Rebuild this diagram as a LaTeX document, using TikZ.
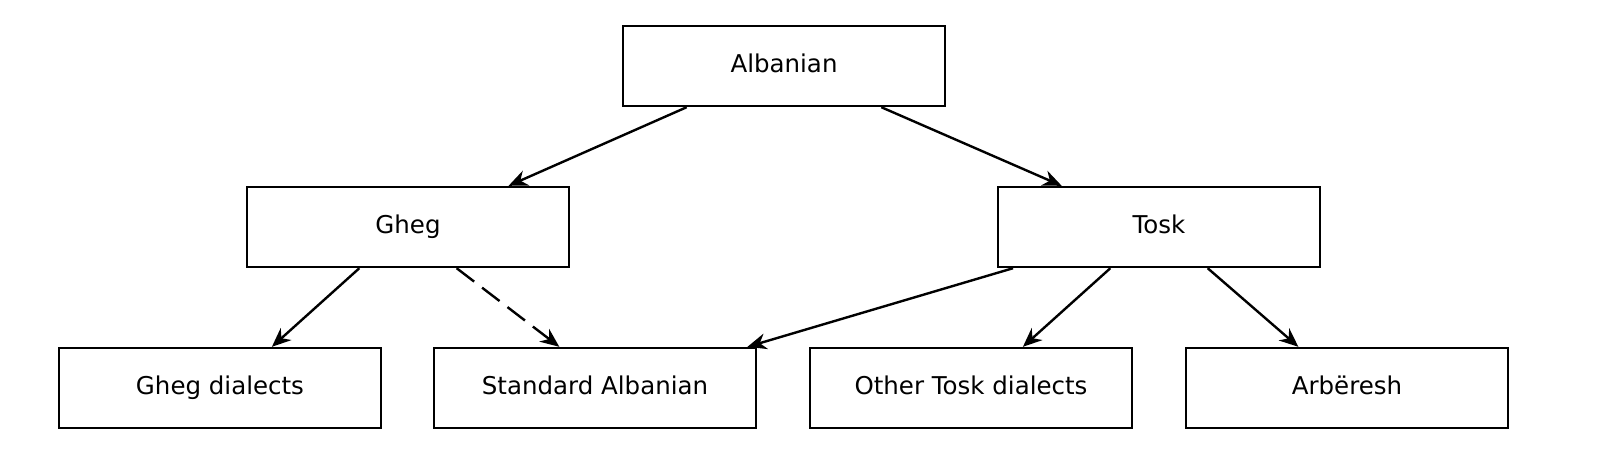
\documentclass[tikz,border=0pt]{standalone}
\usepackage{fontspec}
\setmainfont{DejaVu Sans}
\usetikzlibrary{calc,arrows.meta}
\begin{document}
\begin{tikzpicture}[x=1pt,y=-1pt,
  box/.style={draw,line width=2.4pt,minimum width=322pt,minimum height=80pt,font=\fontsize{24.5}{28}\selectfont,inner sep=0,text height=17pt,text depth=5pt},
  arr/.style={line width=2.4pt,-{Stealth[length=19pt,width=16pt]}}]
\useasboundingbox (0,0) rectangle (1600,466);
\node[box] (alb) at (784,66) {Albanian};
\node[box] (gheg) at (408,227) {Gheg};
\node[box] (tosk) at (1159,227) {Tosk};
\node[box] (gd) at (220,388) {Gheg dialects};
\node[box] (std) at (595,388) {Standard Albanian};
\node[box] (otd) at (971,388) {Other Tosk dialects};
\node[box] (arb) at (1347,388) {Arbëresh};
\draw[arr] ($(alb.south west)!0.2!(alb.south east)$) -- ($(gheg.north west)!0.81!(gheg.north east)$);
\draw[arr] ($(alb.south west)!0.8!(alb.south east)$) -- ($(tosk.north west)!0.2!(tosk.north east)$);
\draw[arr] ($(gheg.south west)!0.35!(gheg.south east)$) -- ($(gd.north west)!0.66!(gd.north east)$);
\draw[arr,dash pattern=on 22pt off 10pt] ($(gheg.south west)!0.65!(gheg.south east)$) -- ($(std.north west)!0.39!(std.north east)$);
\draw[arr] ($(tosk.south west)!0.05!(tosk.south east)$) -- ($(std.north west)!0.97!(std.north east)$);
\draw[arr] ($(tosk.south west)!0.35!(tosk.south east)$) -- ($(otd.north west)!0.66!(otd.north east)$);
\draw[arr] ($(tosk.south west)!0.65!(tosk.south east)$) -- ($(arb.north west)!0.35!(arb.north east)$);
\end{tikzpicture}
\end{document}
